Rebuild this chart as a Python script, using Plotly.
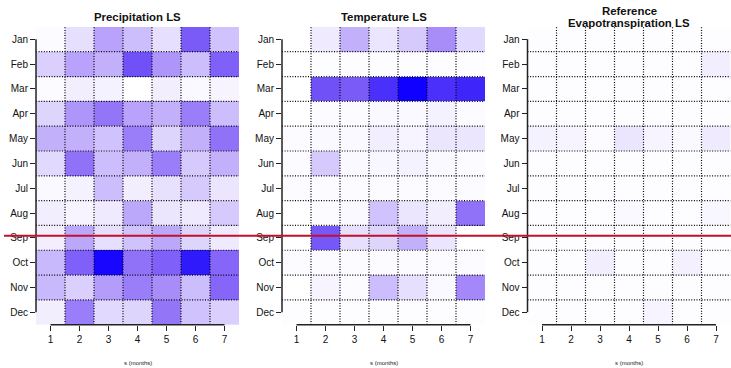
import plotly.graph_objects as go

# Month rows and lag columns
months = ["Jan", "Feb", "Mar", "Apr", "May", "Jun",
          "Jul", "Aug", "Sep", "Oct", "Nov", "Dec"]
steps = [1, 2, 3, 4, 5, 6, 7]

# Relative strength (0 = none, 1 = strongest) per month and lag
precip_ls = [
    [0.02, 0.15, 0.40, 0.30, 0.15, 0.70, 0.28],
    [0.22, 0.40, 0.35, 0.75, 0.45, 0.30, 0.68],
    [0.02, 0.08, 0.06, 0.00, 0.08, 0.03, 0.05],
    [0.20, 0.45, 0.58, 0.40, 0.35, 0.55, 0.30],
    [0.35, 0.35, 0.28, 0.55, 0.20, 0.35, 0.60],
    [0.18, 0.60, 0.30, 0.35, 0.55, 0.25, 0.35],
    [0.03, 0.06, 0.30, 0.08, 0.14, 0.25, 0.12],
    [0.08, 0.05, 0.10, 0.38, 0.12, 0.10, 0.25],
    [0.08, 0.38, 0.15, 0.28, 0.38, 0.20, 0.10],
    [0.32, 0.68, 0.98, 0.60, 0.68, 0.92, 0.65],
    [0.32, 0.22, 0.42, 0.55, 0.48, 0.30, 0.65],
    [0.08, 0.55, 0.18, 0.20, 0.58, 0.28, 0.22],
]
temp_ls = [
    [0.00, 0.10, 0.35, 0.12, 0.25, 0.48, 0.18],
    [0.00, 0.01, 0.01, 0.01, 0.01, 0.01, 0.01],
    [0.00, 0.75, 0.70, 0.85, 1.00, 0.85, 0.88],
    [0.00, 0.02, 0.02, 0.03, 0.03, 0.06, 0.02],
    [0.02, 0.03, 0.03, 0.08, 0.05, 0.12, 0.12],
    [0.02, 0.25, 0.03, 0.04, 0.06, 0.03, 0.02],
    [0.02, 0.02, 0.02, 0.02, 0.02, 0.02, 0.02],
    [0.00, 0.02, 0.03, 0.28, 0.12, 0.08, 0.60],
    [0.00, 0.72, 0.15, 0.20, 0.35, 0.12, 0.00],
    [0.02, 0.02, 0.02, 0.02, 0.02, 0.02, 0.02],
    [0.00, 0.05, 0.02, 0.30, 0.15, 0.03, 0.50],
    [0.01, 0.01, 0.01, 0.01, 0.01, 0.01, 0.01],
]
et0_ls = [
    [0.01, 0.01, 0.01, 0.01, 0.01, 0.01, 0.01],
    [0.01, 0.01, 0.01, 0.01, 0.01, 0.01, 0.08],
    [0.01, 0.01, 0.01, 0.01, 0.01, 0.01, 0.01],
    [0.01, 0.01, 0.01, 0.01, 0.01, 0.01, 0.01],
    [0.06, 0.05, 0.02, 0.12, 0.05, 0.03, 0.10],
    [0.01, 0.01, 0.01, 0.01, 0.01, 0.01, 0.01],
    [0.01, 0.01, 0.01, 0.01, 0.01, 0.01, 0.01],
    [0.01, 0.01, 0.01, 0.03, 0.01, 0.01, 0.04],
    [0.01, 0.01, 0.01, 0.01, 0.01, 0.01, 0.01],
    [0.01, 0.01, 0.08, 0.01, 0.01, 0.07, 0.01],
    [0.01, 0.01, 0.01, 0.01, 0.01, 0.01, 0.01],
    [0.01, 0.01, 0.01, 0.01, 0.05, 0.01, 0.01],
]
panel_titles = [["Precipitation LS"], ["Temperature LS"],
                ["Reference", "Evapotranspiration LS"]]
x_title = "s (months)"
split_month = 7.92  # marker between Aug and Sep

W, H = 731, 368
FONT = "Liberation Sans, Arial, sans-serif"
colorscale = [
    [0.00, "#FFFFFF"],
    [0.25, "#D6CAFD"],
    [0.50, "#A488F9"],
    [0.75, "#7050F7"],
    [1.00, "#1000FF"],
]

# pixel extents of the three panels
x_px = [(36, 239), (282, 485), (527.5, 730.5)]
y_top, y_bot = 26.9, 324.7
y_dom = [1 - y_bot / H, 1 - y_top / H]

fig = go.Figure()
shapes = []
annotations = []
row_idx = list(range(len(months)))
dot_line = dict(color="#000", width=1.2, dash="1px,1.6px")

for i, z in enumerate([precip_ls, temp_ls, et0_ls]):
    n = "" if i == 0 else str(i + 1)
    xa, ya = "x" + n, "y" + n
    fig.add_trace(go.Heatmap(
        x=steps, y=row_idx, z=z, xaxis=xa, yaxis=ya,
        colorscale=colorscale, zmin=0, zmax=1, showscale=False,
        xgap=0, ygap=0, hoverinfo="skip",
    ))
    x0, x1 = x_px[i]
    fig.layout["xaxis" + n] = dict(
        domain=[x0 / W, x1 / W], anchor=ya, range=[0.5, 7.5],
        tickvals=steps, ticktext=[str(s) for s in steps],
        ticks="outside", ticklen=5, tickwidth=1.3, tickcolor="#222",
        showgrid=False, zeroline=False, showline=False,
        tickfont=dict(family=FONT, size=10, color="#111"),
    )
    fig.layout["yaxis" + n] = dict(
        domain=y_dom, anchor=xa, range=[11.5, -0.5],
        tickvals=row_idx, ticktext=months,
        ticks="outside", ticklen=5, tickwidth=1.3, tickcolor="#222",
        showgrid=False, zeroline=False, showline=False,
        tickfont=dict(family=FONT, size=10, color="#111"),
    )
    # dotted cell grid
    for b in [s + 0.5 for s in steps[:-1]]:
        shapes.append(dict(type="line", xref=xa, yref=ya + " domain",
                           x0=b, x1=b, y0=0, y1=1, line=dot_line))
    for b in [r + 0.5 for r in row_idx[:-1]]:
        shapes.append(dict(type="line", xref=xa + " domain", yref=ya,
                           x0=0, x1=1, y0=b, y1=b, line=dot_line))
    # axis lines spanning first to last tick
    shapes.append(dict(type="line", xref=xa, yref=ya + " domain",
                       x0=steps[0], x1=steps[-1], y0=0, y1=0,
                       line=dict(color="#222", width=1.5)))
    shapes.append(dict(type="line", xref=xa + " domain", yref=ya,
                       x0=0, x1=0, y0=row_idx[0], y1=row_idx[-1],
                       line=dict(color="#222", width=1.5)))
    # titles
    xc = (x0 + x1) / 2 / W
    lines = panel_titles[i]
    ys = [17] if len(lines) == 1 else [10.5, 23.2]
    for txt, yy in zip(lines, ys):
        annotations.append(dict(text="<b>" + txt + "</b>", xref="paper", yref="paper",
                                x=xc, y=1 - yy / H, xanchor="center", yanchor="middle",
                                showarrow=False,
                                font=dict(family=FONT, size=11.4, color="#111")))
    annotations.append(dict(text=x_title, xref="paper", yref="paper",
                            x=xc, y=1 - 363 / H, xanchor="center", yanchor="middle",
                            showarrow=False,
                            font=dict(family=FONT, size=6, color="#222")))

# red month separator across the whole figure
shapes.append(dict(type="line", xref="paper", yref="y",
                   x0=4 / W, x1=1, y0=split_month, y1=split_month,
                   line=dict(color="#C0102A", width=2)))

fig.update_layout(
    width=W, height=H,
    margin=dict(l=0, r=0, t=0, b=0),
    paper_bgcolor="white", plot_bgcolor="white",
    shapes=shapes, annotations=annotations,
    showlegend=False,
)

fig.write_html("out.html", config={"displayModeBar": False})
